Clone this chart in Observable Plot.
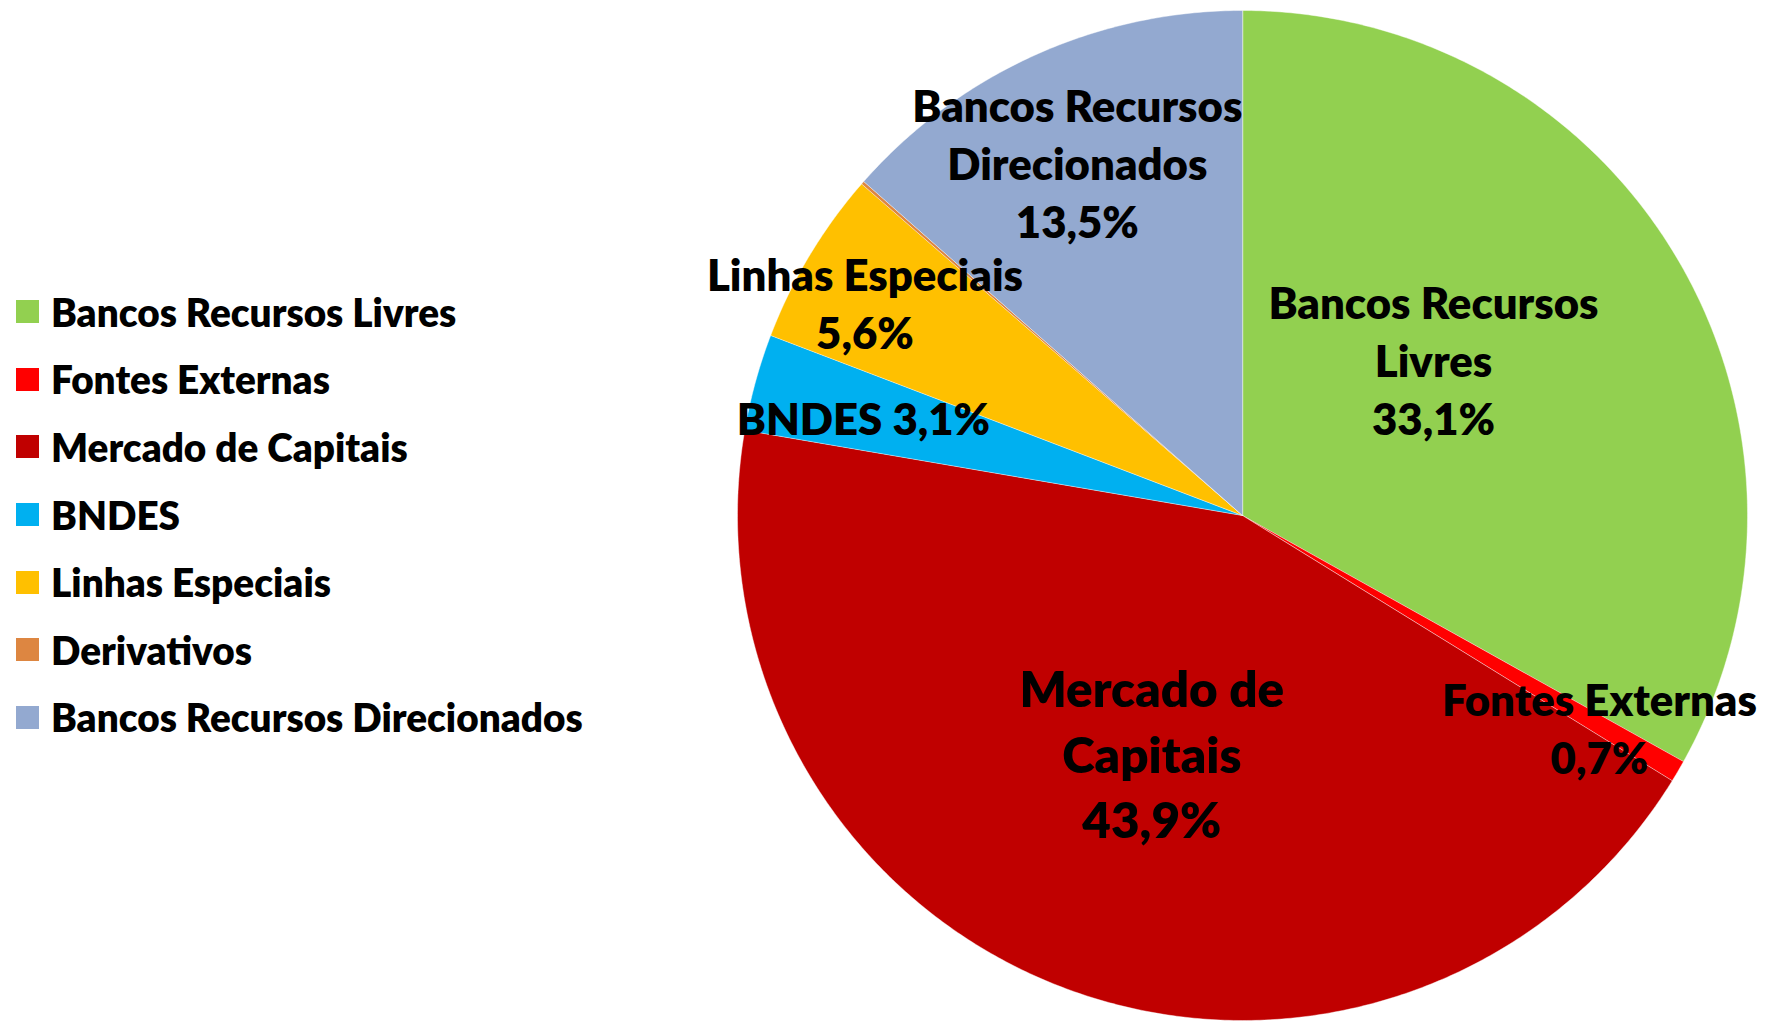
<!DOCTYPE html>
<html><head><meta charset="utf-8">
<script src="https://cdn.jsdelivr.net/npm/d3@7"></script>
<script src="https://cdn.jsdelivr.net/npm/@observablehq/plot@0.6"></script>
<style>
html,body{margin:0;padding:0;background:#fff;}
#wrap{position:relative;width:1766px;height:1021px;}
#legend{position:absolute;left:16px;top:278px;width:700px;}
#legend, #legend *{font-family:Lato,sans-serif;font-weight:800;font-size:38.7px;color:#000;}
#legend .lg-swatch{height:67.6px;display:flex;align-items:center;padding:0;margin:0;}
#legend .lg-swatch svg{margin-right:12px !important;}
</style></head><body><div id="wrap"></div>
<script>
const categories = ["Bancos Recursos Livres","Fontes Externas","Mercado de Capitais","BNDES","Linhas Especiais","Derivativos","Bancos Recursos Direcionados"];
const values = [33.1, 0.7, 43.9, 3.1, 5.6, 0.1, 13.5];
const colors = ["#92D050","#FF0000","#C00000","#00B0F0","#FFC000","#DD8641","#93A9D0"];
const labelText = ["Bancos Recursos\nLivres\n{p}","Fontes Externas\n{p}","Mercado de\nCapitais\n{p}","BNDES {p}","Linhas Especiais\n{p}",null,"Bancos Recursos\nDirecionados\n{p}"];
// label placement: radius (fraction of pie radius) and position along the slice's angle span (0..1)
const labelR = [0.485, 0.825, 0.508, 0.774, 0.856, null, 0.766];
const labelT = [0.43, 0.75, 0.5, 0.39, 0.41, null, 0.48];
const labelSize = [43.7, 43.7, 49.4, 43.7, 43.7, 43.7, 43.7];

const fmt = v => v.toFixed(1).replace(".", ",") + "%";
const total = d3.sum(values);
let cum = 0;
const slices = categories.map((name, i) => {
  const a0 = cum / total * 2 * Math.PI; cum += values[i];
  const a1 = cum / total * 2 * Math.PI;
  return {name, value: values[i], a0, a1, i};
});
const pts = [];
for (const s of slices) {
  pts.push({name: s.name, x: 0, y: 0});
  const n = Math.max(2, Math.ceil((s.a1 - s.a0) / (Math.PI / 360)));
  for (let k = 0; k <= n; k++) {
    const a = s.a0 + (s.a1 - s.a0) * k / n;
    pts.push({name: s.name, x: Math.sin(a), y: Math.cos(a)});
  }
}
const labels = slices.filter(s => labelText[s.i]).map(s => {
  const m = s.a0 + (s.a1 - s.a0) * labelT[s.i], r = labelR[s.i];
  return {name: s.name, text: labelText[s.i].replace("{p}", fmt(s.value)), x: r * Math.sin(m), y: r * Math.cos(m), size: labelSize[s.i]};
});

const plot = Plot.plot({
  width: 1766, height: 1021,
  marginLeft: 737, marginRight: 19, marginTop: 10, marginBottom: 1,
  x: {domain: [-1, 1], axis: null},
  y: {domain: [-1, 1], axis: null},
  color: {domain: categories, range: colors},
  style: {background: "white"},
  marks: [
    Plot.line(pts, {x: "x", y: "y", z: "name", fill: "name", stroke: "white", strokeWidth: 0.6, strokeOpacity: 0.7, curve: "linear-closed"}),
    Plot.text(labels, {x: "x", y: "y", text: "text", fontSize: "size", fontWeight: 800, fontFamily: "Lato", lineAnchor: "middle", lineHeight: 1.33, dy: -4, fill: "black"})
  ]
});
const wrap = document.getElementById("wrap");
wrap.appendChild(plot);
const leg = plot.legend("color", {columns: 1, swatchSize: 23, className: "lg"});
leg.id = "legend";
wrap.appendChild(leg);
</script></body></html>
